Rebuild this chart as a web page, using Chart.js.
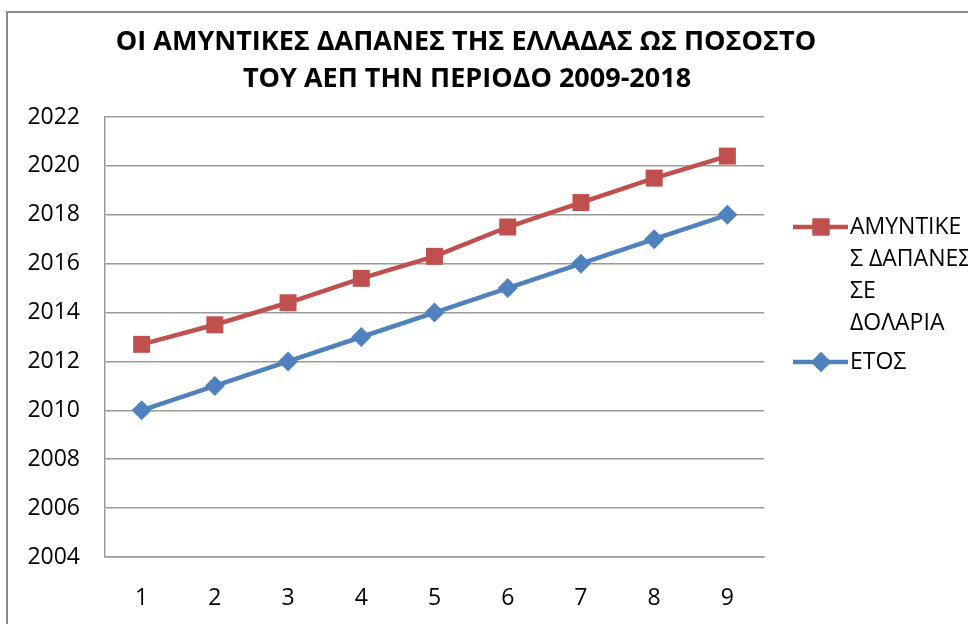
<!DOCTYPE html>
<html>
<head>
<meta charset="utf-8">
<script src="https://cdn.jsdelivr.net/npm/chart.js@4.4.1/dist/chart.umd.min.js"></script>
<style>
  html, body { margin: 0; padding: 0; background: #fff; }
  canvas { display: block; }
</style>
</head>
<body>
<canvas id="chart" width="968" height="624"></canvas>
<script>
const titleLines = ["ΟΙ ΑΜΥΝΤΙΚΕΣ ΔΑΠΑΝΕΣ ΤΗΣ ΕΛΛΑΔΑΣ ΩΣ ΠΟΣΟΣΤΟ", "ΤΟΥ ΑΕΠ ΤΗΝ ΠΕΡΙΟΔΟ 2009-2018"];
const categories = ["1", "2", "3", "4", "5", "6", "7", "8", "9"];
const spending = [2012.7, 2013.5, 2014.4, 2015.4, 2016.3, 2017.5, 2018.5, 2019.5, 2020.4];
const years = [2010, 2011, 2012, 2013, 2014, 2015, 2016, 2017, 2018];
const spendingLabel = "ΑΜΥΝΤΙΚΕΣ ΔΑΠΑΝΕΣ ΣΕ ΔΟΛΑΡΙΑ";
const yearLabel = "ΕΤΟΣ";
// legend text wrapped the way the original box breaks it
const legendLines = [["ΑΜΥΝΤΙΚΕ", "Σ ΔΑΠΑΝΕΣ", "ΣΕ", "ΔΟΛΑΡΙΑ"], ["ΕΤΟΣ"]];

const RED = "#C0504D";
const BLUE = "#4F81BD";
const GRID = "#9a9a9a";
const FONT = "'Open Sans', 'Liberation Sans', sans-serif";

// frame, title and wrapped legend
const decor = {
  id: "decor",
  beforeDraw(chart) {
    const ctx = chart.ctx;
    ctx.save();
    ctx.strokeStyle = "#8a8a8a";
    ctx.lineWidth = 2;
    ctx.strokeRect(7, 12, 1000, 700);
    ctx.restore();
  },
  afterDraw(chart) {
    const ctx = chart.ctx;
    ctx.save();
    ctx.fillStyle = "#000";
    ctx.textAlign = "center";
    ctx.textBaseline = "alphabetic";
    ctx.font = "bold 27px " + FONT;
    ctx.fillText(titleLines[0], 466, 50);
    ctx.fillText(titleLines[1], 467, 87);

    const items = [
      { ds: chart.data.datasets[0], y: 227, lines: legendLines[0] },
      { ds: chart.data.datasets[1], y: 362, lines: legendLines[1] }
    ];
    ctx.font = "23px " + FONT;
    ctx.textAlign = "left";
    ctx.textBaseline = "middle";
    items.forEach(it => {
      ctx.strokeStyle = it.ds.borderColor;
      ctx.lineWidth = it.ds.borderWidth;
      ctx.beginPath();
      ctx.moveTo(793, it.y);
      ctx.lineTo(848, it.y);
      ctx.stroke();
      ctx.fillStyle = it.ds.borderColor;
      Chart.helpers.drawPoint(ctx, {
        pointStyle: it.ds.pointStyle,
        radius: it.ds.pointRadius,
        borderWidth: 0,
        rotation: 0
      }, 821, it.y);
      ctx.fill();
      ctx.fillStyle = "#000";
      it.lines.forEach((t, i) => ctx.fillText(t, 850, it.y + i * 32));
    });
    ctx.restore();
  }
};

new Chart(document.getElementById("chart"), {
  type: "line",
  data: {
    labels: categories,
    datasets: [
      {
        label: spendingLabel, data: spending, borderColor: RED, backgroundColor: RED,
        borderWidth: 4.5, pointStyle: "rect", pointRadius: 12, pointHoverRadius: 12,
        pointBorderWidth: 0, tension: 0, fill: false
      },
      {
        label: yearLabel, data: years, borderColor: BLUE, backgroundColor: BLUE,
        borderWidth: 4.5, pointStyle: "rectRot", pointRadius: 10, pointHoverRadius: 10,
        pointBorderWidth: 0, tension: 0, fill: false
      }
    ]
  },
  options: {
    responsive: false,
    animation: false,
    devicePixelRatio: 1,
    layout: { padding: { top: 117, right: 204, bottom: 0, left: 0 } },
    plugins: { legend: { display: false }, title: { display: false }, tooltip: { enabled: false } },
    scales: {
      x: {
        offset: true,
        grid: { display: false, drawTicks: false },
        border: { display: true, color: GRID, width: 1.5 },
        ticks: { color: "#000", font: { family: FONT, size: 23 }, padding: 28 },
        afterFit(scale) { scale.height = 67; }
      },
      y: {
        min: 2004, max: 2022,
        grid: { color: GRID, lineWidth: 1.5, drawTicks: false },
        border: { display: true, color: GRID, width: 1.5 },
        ticks: {
          stepSize: 2, color: "#000", font: { family: FONT, size: 23 }, padding: 25,
          callback: v => String(v)
        },
        afterFit(scale) { scale.width = 105; }
      }
    }
  },
  plugins: [decor]
});
</script>
</body>
</html>
